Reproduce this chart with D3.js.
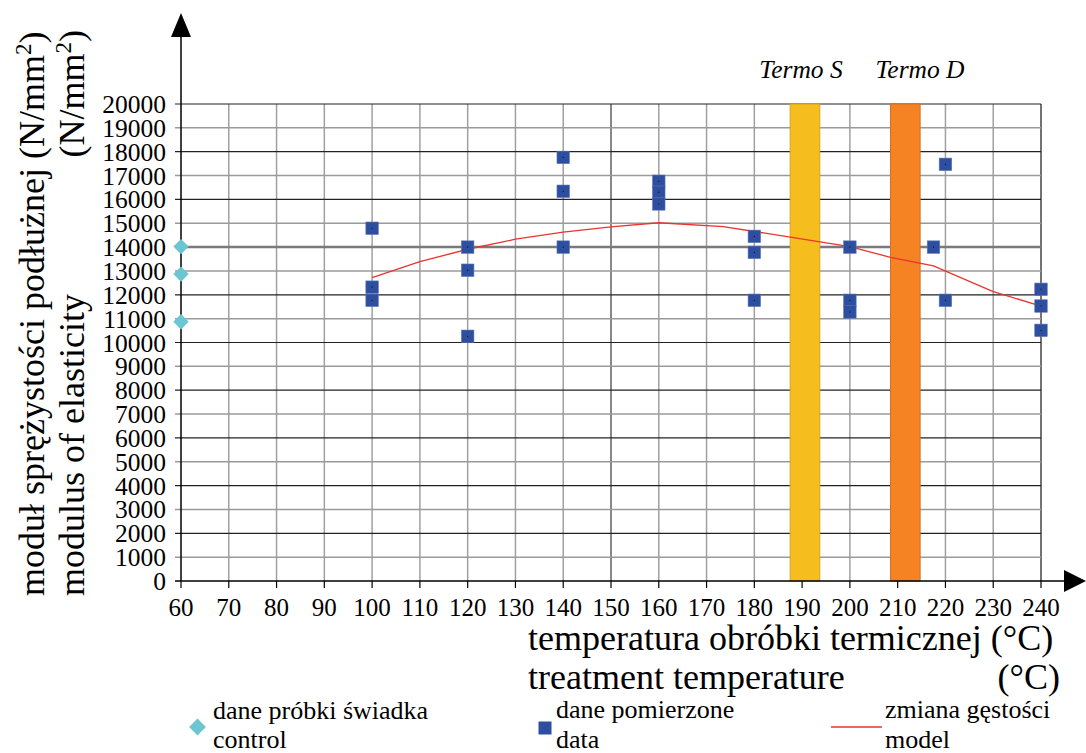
<!DOCTYPE html>
<html>
<head>
<meta charset="utf-8">
<script src="https://cdn.jsdelivr.net/npm/d3@7"></script>
<style>
  body { margin: 0; background: #fff; }
  svg { display: block; font-family: "Liberation Serif", "Times New Roman", serif; }
</style>
</head>
<body>
<div id="chart"></div>
<script>
// control samples (diamonds at 60 °C)
const controlTemp = [60, 60, 60];
const controlValue = [14020, 12870, 10870];

// measured data (squares)
const dataTemp = [100, 100, 100, 120, 120, 120, 140, 140, 140, 160, 160, 160,
                  180, 180, 180, 200, 200, 200, 217.5, 220, 220, 240, 240, 240];
const dataValue = [14790, 12320, 11770, 14000, 13030, 10260, 17760, 16340, 14000, 16760, 16300, 15810,
                   14450, 13780, 11770, 14000, 11770, 11280, 14000, 17470, 11770, 12230, 11530, 10510];

// model curve
const modelTemp = [100, 110, 120, 130, 140, 150, 160, 173.5, 200, 208.5, 217.5, 230, 240];
const modelValue = [12720, 13390, 13910, 14330, 14630, 14850, 15020, 14860, 14020, 13570, 13210, 12130, 11530];

// treatment bands
const bandName = ["Termo S", "Termo D"];
const bandFrom = [187.5, 208.5];
const bandTo = [193.7, 214.7];
const bandColor = ["#f5bd1e", "#f58223"];

const xTicks = d3.range(60, 241, 10);
const yTicks = d3.range(0, 20001, 1000);

const W = 1086, H = 753;
const svg = d3.select("#chart").append("svg")
  .attr("width", W)
  .attr("height", H);

const x = d3.scaleLinear().domain([60, 240]).range([181, 1041]);
const y = d3.scaleLinear().domain([0, 20000]).range([581, 104]);

// vertical grid
svg.append("g")
  .selectAll("line")
  .data(xTicks.filter(t => t > 60))
  .join("line")
  .attr("x1", d => x(d)).attr("x2", d => x(d))
  .attr("y1", y(20000)).attr("y2", y(0))
  .attr("stroke", d => d === 240 ? "#444" : (d === 150 ? "#888" : "#a0a0a0"))
  .attr("stroke-width", d => d === 150 ? 2 : 1.5);

// horizontal grid (extends left as tick marks)
svg.append("g")
  .selectAll("line")
  .data(yTicks.filter(t => t > 0))
  .join("line")
  .attr("x1", 175).attr("x2", x(240))
  .attr("y1", d => y(d)).attr("y2", d => y(d))
  .attr("stroke", d => d === 14000 ? "#7a7a7a" : (d % 2000 === 0 ? "#222" : "#9a9a9a"))
  .attr("stroke-width", d => d === 14000 ? 2.5 : (d % 2000 === 0 ? 1.2 : 1.5));

// bands drawn over the grid
svg.append("g")
  .selectAll("rect")
  .data(bandName)
  .join("rect")
  .attr("x", (d, i) => x(bandFrom[i]))
  .attr("width", (d, i) => x(bandTo[i]) - x(bandFrom[i]))
  .attr("y", y(20000))
  .attr("height", y(0) - y(20000))
  .attr("fill", (d, i) => bandColor[i])
  .attr("stroke", (d, i) => d3.color(bandColor[i]).darker(0.4))
  .attr("stroke-width", 1);

// axes
const axis = svg.append("g").attr("stroke", "#000").attr("stroke-width", 1.5);
axis.append("line").attr("x1", x(60)).attr("x2", 1066).attr("y1", y(0)).attr("y2", y(0));
axis.append("line").attr("x1", x(60)).attr("x2", x(60)).attr("y1", y(0)).attr("y2", 36);
svg.append("path").attr("d", `M${x(60)},13 L${x(60) - 10},37 L${x(60) + 10},37 Z`).attr("fill", "#000");
svg.append("path").attr("d", `M1086,${y(0)} L1064,${y(0) - 11} L1064,${y(0) + 11} Z`).attr("fill", "#000");
axis.append("line").attr("x1", 175).attr("x2", x(60)).attr("y1", y(0)).attr("y2", y(0));

svg.append("g")
  .selectAll("line")
  .data(xTicks)
  .join("line")
  .attr("x1", d => x(d)).attr("x2", d => x(d))
  .attr("y1", y(0)).attr("y2", y(0) + 7)
  .attr("stroke", "#000").attr("stroke-width", 1.2);

// tick labels
svg.append("g")
  .selectAll("text")
  .data(yTicks)
  .join("text")
  .attr("x", 166)
  .attr("y", d => y(d) + 9)
  .attr("text-anchor", "end")
  .attr("font-size", 25.5)
  .text(d => d);

svg.append("g")
  .selectAll("text")
  .data(xTicks)
  .join("text")
  .attr("x", d => x(d))
  .attr("y", 616)
  .attr("text-anchor", "middle")
  .attr("font-size", 25)
  .text(d => d);

// model line
svg.append("path")
  .datum(modelTemp.map((t, i) => [t, modelValue[i]]))
  .attr("fill", "none")
  .attr("stroke", "#e8342f")
  .attr("stroke-width", 1.3)
  .attr("d", d3.line().x(d => x(d[0])).y(d => y(d[1])));

// measured squares
const sq = 12.5;
const pts = svg.append("g")
  .selectAll("g")
  .data(dataTemp.map((t, i) => [t, dataValue[i]]))
  .join("g")
  .attr("transform", d => `translate(${x(d[0])},${y(d[1])})`);
pts.append("rect")
  .attr("x", -sq / 2).attr("y", -sq / 2)
  .attr("width", sq).attr("height", sq)
  .attr("fill", "#2e4e9f")
  .attr("stroke", "#5d77b6").attr("stroke-width", 0.6);
pts.append("rect")
  .attr("x", -0.5).attr("y", -0.5).attr("width", 1).attr("height", 1)
  .attr("fill", "#000");

// control diamonds
const dsym = d3.symbol().type(d3.symbolDiamond2).size(150);
svg.append("g")
  .selectAll("path")
  .data(controlTemp.map((t, i) => [t, controlValue[i]]))
  .join("path")
  .attr("transform", d => `translate(${x(d[0])},${y(d[1])})`)
  .attr("d", dsym)
  .attr("fill", "#6cc6d2");

// band labels
svg.append("g")
  .selectAll("text")
  .data(bandName)
  .join("text")
  .attr("x", (d, i) => i === 0 ? 801 : 920)
  .attr("y", 78)
  .attr("text-anchor", "middle")
  .attr("font-style", "italic")
  .attr("font-size", 25.5)
  .text(d => d);

// y axis title
const yt = svg.append("g").attr("font-size", 36);
yt.append("text")
  .attr("transform", "translate(44,596) rotate(-90)")
  .html('moduł sprężystości podłużnej (N/mm<tspan dy="-13" font-size="23">2</tspan><tspan dy="13">)</tspan>');
yt.append("text")
  .attr("transform", "translate(84,596) rotate(-90)")
  .text("modulus of elasticity");
yt.append("text")
  .attr("transform", "translate(84,30) rotate(-90)")
  .attr("text-anchor", "end")
  .html('(N/mm<tspan dy="-13" font-size="23">2</tspan><tspan dy="13">)</tspan>');

// x axis title
const xt = svg.append("g").attr("font-size", 36);
xt.append("text").attr("x", 528).attr("y", 650).text("temperatura obróbki termicznej (°C)");
xt.append("text").attr("x", 528).attr("y", 689).text("treatment temperature");
xt.append("text").attr("x", 1060).attr("y", 689).attr("text-anchor", "end").text("(°C)");

// legend
const lg = svg.append("g").attr("font-size", 26);
lg.append("path")
  .attr("transform", "translate(197.5,727)")
  .attr("d", d3.symbol().type(d3.symbolDiamond2).size(180))
  .attr("fill", "#6cc6d2");
lg.append("text").attr("x", 213).attr("y", 719).text("dane próbki świadka");
lg.append("text").attr("x", 213).attr("y", 748).text("control");

lg.append("rect").attr("x", 538.5).attr("y", 721.5).attr("width", 13).attr("height", 13).attr("fill", "#2e4e9f");
lg.append("text").attr("x", 556).attr("y", 718).text("dane pomierzone");
lg.append("text").attr("x", 556).attr("y", 748).text("data");

lg.append("line").attr("x1", 831).attr("x2", 882).attr("y1", 727).attr("y2", 727)
  .attr("stroke", "#e8342f").attr("stroke-width", 1.3);
lg.append("text").attr("x", 885).attr("y", 718).text("zmiana gęstości");
lg.append("text").attr("x", 885).attr("y", 748).text("model");
</script>
</body>
</html>
